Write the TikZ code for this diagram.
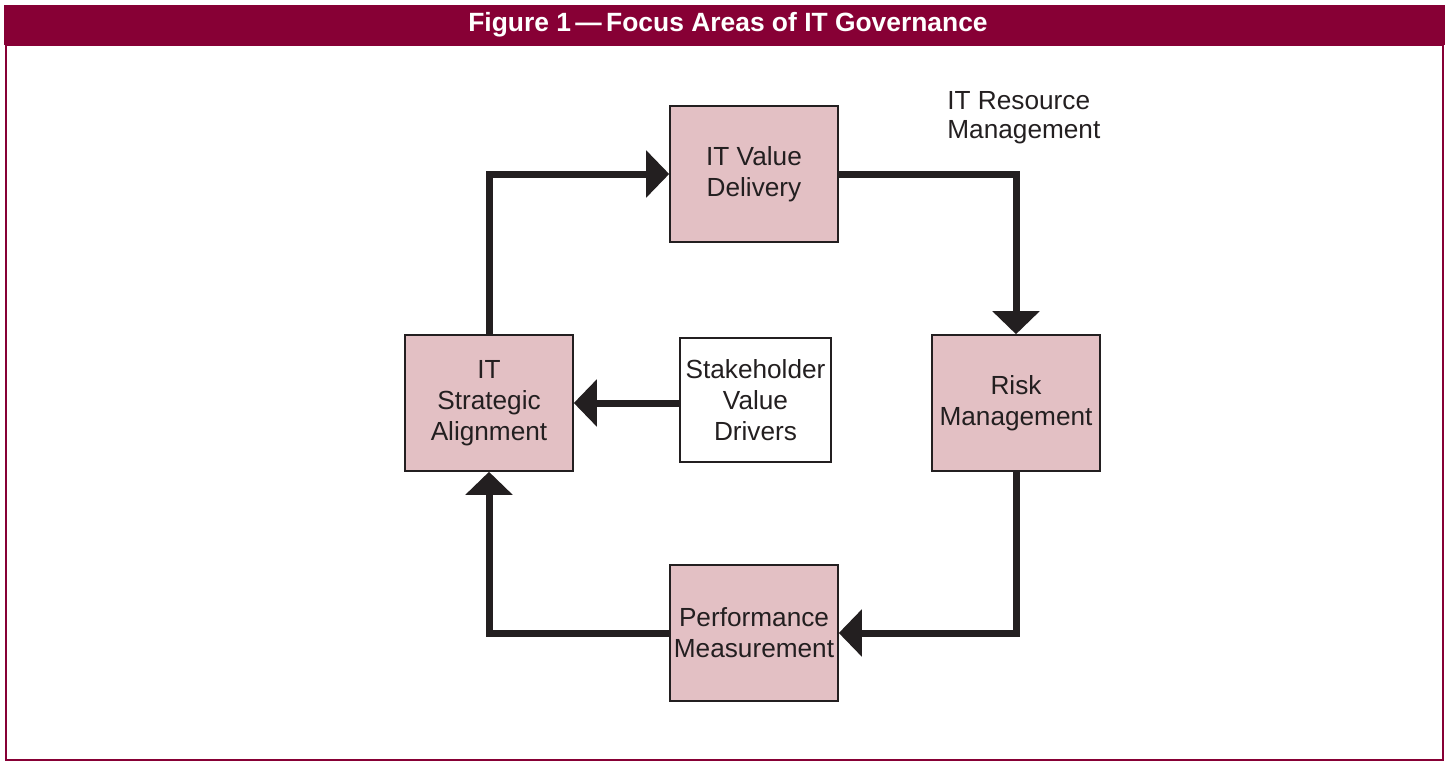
\documentclass[tikz,border=0pt]{standalone}
\usepackage{fontspec}
\setmainfont{Liberation Sans}
\usetikzlibrary{arrows.meta}
\definecolor{isacared}{HTML}{870035}
\definecolor{areafill}{HTML}{E3C0C4}
\definecolor{inkblack}{HTML}{231F20}
\begin{document}
\begin{tikzpicture}[x=0.5pt,y=0.5pt,
    area/.style={draw=inkblack, line width=0.8pt, fill=areafill, minimum width=84pt, minimum height=68pt,
                 align=center, inner sep=0pt, text=inkblack, font=\fontsize{13.1}{15.5}\selectfont},
    driver/.style={area, fill=white, minimum width=75.5pt, minimum height=62pt},
    flow/.style={draw=inkblack, line width=3.5pt, -{Triangle[length=11.5pt,width=23pt]}}]
  \useasboundingbox (0,0) rectangle (1450,768);
  % frame and title bar
  \draw[isacared, line width=0.8pt] (6,8) rectangle (1443,723);
  \fill[isacared] (4,723) rectangle (1445,763);
  \node[text=white, font=\fontsize{13.2}{16}\selectfont\bfseries] (title) at (728,743) {Figure 1\,---\,Focus Areas of IT Governance};
  % focus areas
  \node[area] (delivery) at (754,594) {IT Value\\Delivery};
  \node[area] (risk) at (1016,365) {Risk\\Management};
  \node[area] (perf) at (754,135) {Performance\\Measurement};
  \node[area] (align) at (489,365) {IT\\Strategic\\Alignment};
  \node[driver] (stake) at (755.5,368) {Stakeholder\\Value\\Drivers};
  \node[anchor=north west, align=left, inner sep=0pt, text=inkblack, font=\fontsize{13.1}{14.5}\selectfont] (resource) at (947,677) {IT Resource\\Management};
  % cycle
  \draw[flow] (align.north) |- (delivery.west);
  \draw[flow] (delivery.east) -| (risk.north);
  \draw[flow] (risk.south) |- (perf.east);
  \draw[flow] (perf.west) -| (align.south);
  \draw[flow] (align.east -| stake.west) -- (align.east);
\end{tikzpicture}
\end{document}
